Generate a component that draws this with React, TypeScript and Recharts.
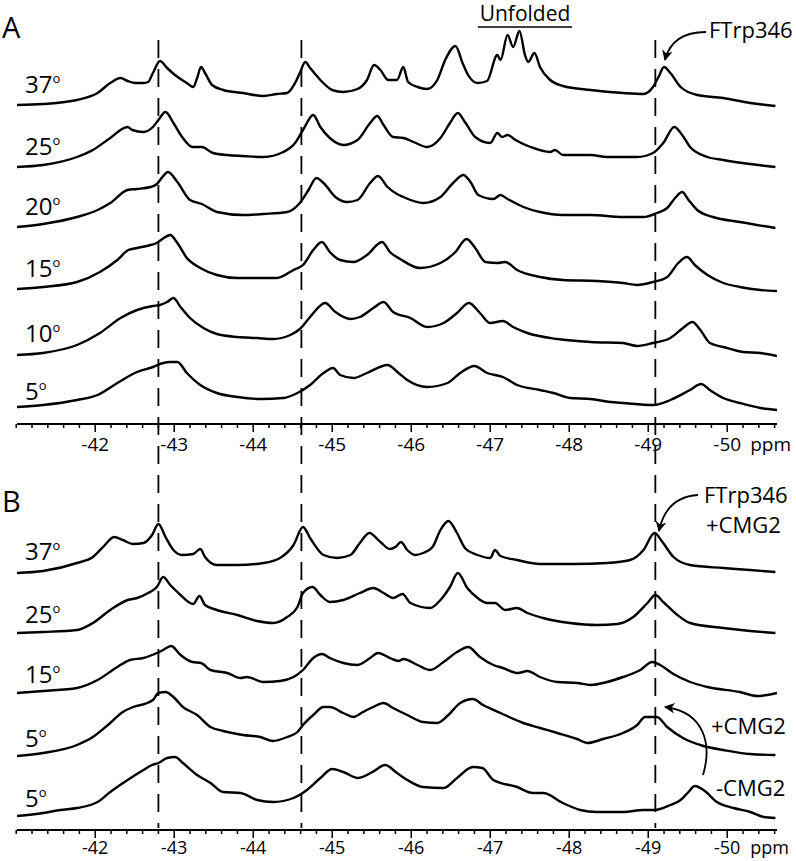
import React from 'react';
import { LineChart, Line, XAxis, YAxis, ReferenceLine } from 'recharts';

type Pt = [number, number];

// each trace: [ppm, intensity above its own left baseline]
// panel A, FTrp346 alone
const a37: Pt[] = [
  [-41.01, 0], [-41.34, 1], [-41.77, 5], [-42.03, 12], [-42.19, 22], [-42.32, 27], [-42.41, 24], [-42.51, 22],
  [-42.61, 22], [-42.67, 23], [-42.73, 32], [-42.82, 44], [-42.91, 37], [-43.01, 30], [-43.16, 22], [-43.24, 18],
  [-43.29, 27], [-43.34, 38], [-43.39, 32], [-43.48, 20], [-43.62, 15], [-43.87, 12], [-44.13, 9], [-44.3, 11],
  [-44.43, 12], [-44.53, 22], [-44.59, 32], [-44.66, 43], [-44.72, 37], [-44.85, 25], [-45.0, 15], [-45.14, 13],
  [-45.32, 16], [-45.44, 25], [-45.53, 40], [-45.61, 35], [-45.71, 25], [-45.82, 25], [-45.9, 38], [-45.96, 23],
  [-46.08, 18], [-46.2, 16], [-46.33, 25], [-46.43, 45], [-46.56, 59], [-46.65, 42], [-46.72, 30], [-46.84, 22],
  [-46.96, 24], [-47.09, 50], [-47.13, 45], [-47.22, 70], [-47.29, 58], [-47.37, 74], [-47.44, 50], [-47.48, 43],
  [-47.56, 52], [-47.63, 38], [-47.76, 25], [-47.92, 19], [-48.27, 15], [-48.68, 12], [-48.94, 11], [-49.06, 18],
  [-49.13, 28], [-49.2, 38], [-49.28, 32], [-49.41, 18], [-49.62, 10], [-49.95, 7], [-50.29, 2], [-50.61, -1],
];
const a25: Pt[] = [
  [-41.01, 0], [-41.34, 2], [-41.77, 10], [-41.97, 17], [-42.19, 29], [-42.41, 40], [-42.47, 37], [-42.61, 35],
  [-42.73, 40], [-42.8, 47], [-42.89, 55], [-42.99, 44], [-43.1, 30], [-43.23, 20], [-43.35, 20], [-43.49, 14],
  [-43.67, 12], [-43.87, 11], [-44.13, 10], [-44.38, 15], [-44.53, 24], [-44.63, 37], [-44.76, 52], [-44.85, 40],
  [-44.97, 29], [-45.14, 22], [-45.32, 27], [-45.48, 44], [-45.57, 51], [-45.65, 42], [-45.77, 30], [-45.9, 29],
  [-46.03, 25], [-46.2, 20], [-46.37, 29], [-46.49, 44], [-46.59, 54], [-46.68, 45], [-46.81, 30], [-47.0, 24],
  [-47.09, 34], [-47.15, 30], [-47.22, 32], [-47.32, 27], [-47.51, 20], [-47.76, 15], [-47.82, 17], [-47.92, 12],
  [-48.27, 12], [-48.48, 10], [-48.86, 10], [-49.06, 14], [-49.19, 24], [-49.33, 40], [-49.43, 32], [-49.53, 20],
  [-49.75, 10], [-49.95, 7], [-50.29, 3], [-50.61, 0],
];
const a20: Pt[] = [
  [-41.01, 0], [-41.34, 3], [-41.77, 10], [-42.03, 17], [-42.19, 24], [-42.41, 37], [-42.53, 38], [-42.7, 40],
  [-42.78, 43], [-42.85, 50], [-42.92, 55], [-43.04, 45], [-43.2, 27], [-43.35, 23], [-43.54, 15], [-43.87, 12],
  [-44.13, 13], [-44.43, 15], [-44.59, 24], [-44.7, 37], [-44.8, 49], [-44.89, 44], [-45.04, 30], [-45.19, 25],
  [-45.32, 27], [-45.48, 44], [-45.58, 51], [-45.7, 40], [-45.82, 33], [-45.9, 30], [-46.15, 24], [-46.37, 30],
  [-46.53, 44], [-46.66, 52], [-46.75, 45], [-46.85, 32], [-47.04, 28], [-47.13, 32], [-47.22, 28], [-47.42, 20],
  [-47.63, 15], [-47.92, 12], [-48.27, 12], [-48.68, 10], [-48.94, 10], [-49.11, 14], [-49.24, 19], [-49.34, 29],
  [-49.43, 35], [-49.51, 27], [-49.62, 17], [-49.82, 10], [-50.16, 5], [-50.61, -1],
];
const a15: Pt[] = [
  [-41.01, 0], [-41.34, 2], [-41.77, 7], [-42.06, 17], [-42.28, 29], [-42.42, 39], [-42.53, 41], [-42.7, 44],
  [-42.78, 46], [-42.85, 50], [-42.95, 54], [-43.04, 46], [-43.16, 31], [-43.33, 21], [-43.54, 14], [-43.8, 11],
  [-44.13, 11], [-44.3, 11], [-44.51, 19], [-44.63, 24], [-44.76, 39], [-44.87, 47], [-44.97, 37], [-45.1, 29],
  [-45.27, 27], [-45.44, 34], [-45.63, 47], [-45.73, 37], [-45.86, 30], [-46.11, 21], [-46.37, 26], [-46.56, 37],
  [-46.7, 50], [-46.81, 41], [-46.94, 27], [-47.09, 26], [-47.19, 27], [-47.34, 19], [-47.63, 12], [-47.92, 9],
  [-48.35, 8], [-48.68, 6], [-48.86, 4], [-49.06, 7], [-49.24, 12], [-49.38, 26], [-49.49, 32], [-49.59, 24],
  [-49.75, 14], [-49.95, 6], [-50.16, 2], [-50.42, -1], [-50.63, -2],
];
const a10: Pt[] = [
  [-41.01, 0], [-41.34, 2], [-41.77, 10], [-42.06, 22], [-42.32, 37], [-42.53, 45], [-42.73, 49], [-42.82, 50],
  [-42.91, 53], [-42.99, 57], [-43.08, 48], [-43.2, 37], [-43.37, 27], [-43.54, 21], [-43.8, 18], [-44.05, 17],
  [-44.25, 16], [-44.47, 20], [-44.59, 26], [-44.72, 38], [-44.91, 52], [-45.04, 43], [-45.23, 36], [-45.35, 38],
  [-45.52, 47], [-45.65, 53], [-45.77, 43], [-45.99, 37], [-46.2, 28], [-46.41, 32], [-46.58, 42], [-46.73, 52],
  [-46.87, 42], [-47.0, 32], [-47.16, 34], [-47.29, 28], [-47.47, 22], [-47.85, 16], [-48.27, 13], [-48.68, 12],
  [-48.86, 9], [-49.06, 12], [-49.28, 17], [-49.44, 27], [-49.56, 33], [-49.66, 25], [-49.78, 12], [-49.95, 8],
  [-50.2, 3], [-50.42, 2], [-50.63, -1],
];
const a5: Pt[] = [
  [-41.01, 0], [-41.34, 2], [-41.77, 7], [-42.03, 12], [-42.28, 24], [-42.53, 35], [-42.73, 40], [-42.86, 44],
  [-42.95, 45], [-43.04, 45], [-43.16, 34], [-43.33, 22], [-43.54, 14], [-43.8, 10], [-44.09, 8], [-44.38, 9],
  [-44.56, 14], [-44.72, 22], [-44.89, 34], [-45.01, 39], [-45.1, 32], [-45.27, 29], [-45.44, 34], [-45.7, 42],
  [-45.84, 34], [-45.95, 27], [-46.2, 20], [-46.46, 24], [-46.62, 34], [-46.8, 41], [-46.96, 34], [-47.16, 30],
  [-47.34, 22], [-47.63, 17], [-47.8, 14], [-48.01, 9], [-48.27, 8], [-48.52, 5], [-48.68, 4], [-49.06, 2],
  [-49.28, 7], [-49.53, 17], [-49.67, 23], [-49.78, 17], [-49.95, 9], [-50.16, 4], [-50.42, -1], [-50.63, -3],
];

// panel B, FTrp346 + CMG2 (last trace is the 5 degree spectrum without CMG2)
const b37: Pt[] = [
  [-41.01, 0], [-41.34, 2], [-41.77, 10], [-41.97, 16], [-42.1, 26], [-42.24, 36], [-42.35, 33], [-42.48, 29],
  [-42.61, 30], [-42.72, 38], [-42.8, 49], [-42.89, 36], [-42.99, 23], [-43.1, 18], [-43.24, 19], [-43.33, 24],
  [-43.39, 16], [-43.54, 8], [-43.8, 8], [-44.13, 10], [-44.34, 15], [-44.51, 28], [-44.63, 46], [-44.72, 35],
  [-44.89, 18], [-45.06, 15], [-45.23, 18], [-45.35, 30], [-45.47, 40], [-45.61, 31], [-45.73, 24], [-45.8, 26],
  [-45.87, 31], [-45.95, 23], [-46.05, 18], [-46.15, 20], [-46.27, 26], [-46.37, 43], [-46.47, 52], [-46.58, 40],
  [-46.68, 25], [-46.84, 18], [-47.0, 15], [-47.06, 23], [-47.13, 17], [-47.34, 13], [-47.63, 9], [-48.05, 9],
  [-48.48, 10], [-48.77, 13], [-48.94, 23], [-49.08, 40], [-49.18, 31], [-49.32, 16], [-49.53, 8], [-49.95, 5],
  [-50.29, 3], [-50.61, 1],
];
const b25: Pt[] = [
  [-41.01, 0], [-41.34, 1], [-41.77, 3], [-41.97, 10], [-42.19, 23], [-42.41, 33], [-42.53, 35], [-42.67, 40],
  [-42.78, 46], [-42.86, 56], [-42.95, 48], [-43.08, 38], [-43.18, 31], [-43.24, 29], [-43.32, 37], [-43.39, 28],
  [-43.54, 23], [-43.8, 18], [-44.05, 12], [-44.25, 10], [-44.43, 16], [-44.56, 26], [-44.63, 40], [-44.75, 46],
  [-44.85, 38], [-44.97, 31], [-45.14, 33], [-45.35, 40], [-45.52, 45], [-45.65, 40], [-45.77, 35], [-45.89, 39],
  [-45.99, 30], [-46.24, 25], [-46.37, 33], [-46.49, 46], [-46.59, 60], [-46.71, 45], [-46.84, 35], [-46.96, 30],
  [-47.06, 30], [-47.19, 23], [-47.34, 25], [-47.47, 20], [-47.67, 15], [-48.01, 10], [-48.35, 8], [-48.61, 9],
  [-48.81, 16], [-48.99, 30], [-49.09, 38], [-49.19, 31], [-49.37, 18], [-49.53, 10], [-49.95, 5], [-50.29, 2],
  [-50.61, 0],
];
const b15: Pt[] = [
  [-41.01, 0], [-41.34, 2], [-41.77, 5], [-42.03, 13], [-42.28, 26], [-42.44, 33], [-42.61, 35], [-42.78, 40],
  [-42.86, 43], [-42.96, 47], [-43.08, 38], [-43.23, 31], [-43.34, 30], [-43.46, 23], [-43.67, 20], [-43.84, 15],
  [-43.92, 16], [-44.13, 11], [-44.34, 12], [-44.51, 16], [-44.63, 23], [-44.76, 35], [-44.87, 39], [-44.97, 35],
  [-45.14, 30], [-45.32, 28], [-45.48, 35], [-45.58, 40], [-45.73, 35], [-45.84, 32], [-45.9, 34], [-46.08, 28],
  [-46.24, 23], [-46.41, 31], [-46.58, 41], [-46.72, 46], [-46.87, 36], [-47.04, 28], [-47.16, 25], [-47.35, 20],
  [-47.47, 22], [-47.63, 16], [-47.85, 11], [-48.1, 10], [-48.27, 8], [-48.48, 11], [-48.68, 16], [-48.9, 23],
  [-49.05, 31], [-49.15, 28], [-49.32, 19], [-49.53, 11], [-49.75, 6], [-50.16, 1], [-50.38, -3], [-50.63, 0],
];
const b5plus: Pt[] = [
  [-41.01, 0], [-41.34, 3], [-41.77, 11], [-41.97, 19], [-42.19, 33], [-42.35, 44], [-42.48, 49], [-42.66, 53],
  [-42.73, 56], [-42.8, 63], [-42.89, 64], [-42.99, 59], [-43.11, 49], [-43.29, 41], [-43.46, 29], [-43.62, 25],
  [-43.87, 21], [-44.09, 19], [-44.25, 15], [-44.43, 19], [-44.56, 24], [-44.63, 31], [-44.76, 41], [-44.89, 49],
  [-44.97, 49], [-45.14, 43], [-45.27, 39], [-45.39, 44], [-45.52, 49], [-45.65, 53], [-45.77, 48], [-45.95, 41],
  [-46.15, 34], [-46.33, 33], [-46.47, 41], [-46.62, 53], [-46.78, 57], [-46.91, 51], [-47.13, 43], [-47.42, 33],
  [-47.63, 28], [-47.85, 23], [-48.1, 17], [-48.23, 13], [-48.43, 17], [-48.68, 23], [-48.86, 31], [-48.96, 39],
  [-49.06, 39], [-49.11, 39], [-49.24, 29], [-49.44, 18], [-49.7, 10], [-49.95, 6], [-50.29, 2], [-50.61, 1],
];
const b5minus: Pt[] = [
  [-41.01, 0], [-41.34, 3], [-41.56, 6], [-41.77, 8], [-42.03, 14], [-42.19, 24], [-42.41, 36], [-42.61, 46],
  [-42.72, 51], [-42.8, 53], [-42.91, 58], [-43.01, 59], [-43.11, 53], [-43.29, 41], [-43.46, 33], [-43.62, 24],
  [-43.84, 23], [-44.05, 16], [-44.25, 14], [-44.51, 18], [-44.68, 26], [-44.85, 38], [-45.0, 47], [-45.14, 44],
  [-45.33, 38], [-45.51, 44], [-45.67, 51], [-45.82, 43], [-45.95, 36], [-46.15, 29], [-46.41, 28], [-46.58, 38],
  [-46.78, 49], [-46.9, 48], [-47.04, 36], [-47.34, 29], [-47.54, 23], [-47.67, 23], [-47.92, 13], [-48.14, 6],
  [-48.35, 4], [-48.68, 4], [-48.94, 6], [-49.08, 6], [-49.28, 11], [-49.41, 16], [-49.51, 24], [-49.59, 30],
  [-49.7, 26], [-49.87, 14], [-50.08, 8], [-50.29, 4], [-50.46, -1], [-50.61, -2],
];

const tempsA = ['37', '25', '20', '15', '10', '5'];
const tracesA = [a37, a25, a20, a15, a10, a5];
const offsetsA = [319, 257, 197, 135, 69, 17];

const tempsB = ['37', '25', '15', '5', '5'];
const tracesB = [b37, b25, b15, b5plus, b5minus];
const offsetsB = [257, 197, 137, 74, 14];

const majorTicks = [-42, -43, -44, -45, -46, -47, -48, -49, -50];
const minorTicks = Array.from({ length: 49 }, (_, i) => Math.round((-41 - 0.2 * i) * 10) / 10);
const dashedAt = [-42.8, -44.61, -49.09];

const FONT = "'Open Sans', 'DejaVu Sans', sans-serif";
const W = 796;

const makeTick = (labelGap: number, size: number) => (props: any) => {
  const { x, y, payload } = props;
  const v = payload.value;
  const major = majorTicks.includes(v);
  return (
    <g>
      <line x1={x} x2={x} y1={y} y2={y + (major ? 8 : 4)} stroke="#000" strokeWidth={1.5} />
      {major && (
        <text x={x} y={y + labelGap} textAnchor="middle" fontSize={size} fontFamily={FONT} fill="#000">
          {v}
        </text>
      )}
      {v === -50 && (
        <text x={x + 23} y={y + labelGap} fontSize={size} fontFamily={FONT} fill="#000">
          ppm
        </text>
      )}
    </g>
  );
};
const TickA = makeTick(27, 19);
const TickB = makeTick(24, 18);

const ppmAxis = (h: number, Tick: any) => (
  <XAxis
    dataKey="x"
    type="number"
    domain={[-50.63, -41.01]}
    reversed
    allowDataOverflow
    ticks={minorTicks}
    interval={0}
    tick={<Tick />}
    tickLine={false}
    tickSize={0}
    tickMargin={0}
    height={h}
    axisLine={{ stroke: '#000', strokeWidth: 2 }}
  />
);

const traceLines = (traces: Pt[][], offsets: number[]) =>
  traces.map((t, i) => (
    <Line
      key={i}
      data={t.map(([x, v]) => ({ x, y: v + offsets[i] }))}
      dataKey="y"
      type="monotoneX"
      dot={false}
      stroke="#000"
      strokeWidth={2.4}
      strokeLinejoin="round"
      isAnimationActive={false}
    />
  ));

const TempLabel = ({ t, y }: { t: string; y: number }) => (
  <text x={25} y={y} fontSize={24} fontFamily={FONT} fill="#000">
    {t}
    <tspan fontSize={13} dy={-10}>o</tspan>
  </text>
);

const tempBaselinesA = [93, 155, 215, 277, 342, 400];
const tempBaselinesB = [560, 623, 683, 747, 807];

export default function App() {
  return (
    <div style={{ position: 'absolute', left: 0, top: 0, width: W, height: 861, background: '#fff' }}>
      <div style={{ position: 'absolute', left: 0, top: 0 }}>
        <LineChart width={W} height={470} margin={{ top: 0, right: 19, bottom: 6, left: 17 }}>
          {ppmAxis(40, TickA)}
          <YAxis hide type="number" domain={[0, 424]} allowDataOverflow />
          {traceLines(tracesA, offsetsA)}
        </LineChart>
      </div>
      <div style={{ position: 'absolute', left: 0, top: 0 }}>
        <LineChart width={W} height={861} margin={{ top: 0, right: 19, bottom: 0, left: 17 }}>
          {ppmAxis(31, TickB)}
          <YAxis hide type="number" domain={[0, 830]} allowDataOverflow />
          {dashedAt.map((d) => (
            <ReferenceLine
              key={d}
              segment={[{ x: d, y: 790 }, { x: d, y: 2 }]}
              stroke="#000"
              strokeWidth={1.8}
              strokeDasharray="18 11"
              ifOverflow="visible"
            />
          ))}
          {traceLines(tracesB, offsetsB)}
        </LineChart>
      </div>
      <svg width={W} height={861} style={{ position: 'absolute', left: 0, top: 0, pointerEvents: 'none' }}>
        <defs>
          <marker id="head" viewBox="0 0 10 10" refX="9" refY="5" markerWidth="6" markerHeight="6" orient="auto-start-reverse">
            <path d="M0,0 L10,5 L0,10 L3,5 Z" fill="#000" />
          </marker>
        </defs>
        <text x={2} y={38} fontSize={29} fontFamily={FONT}>A</text>
        <text x={2} y={512} fontSize={29} fontFamily={FONT}>B</text>
        {tempsA.map((t, i) => <TempLabel key={'a' + i} t={t} y={tempBaselinesA[i]} />)}
        {tempsB.map((t, i) => <TempLabel key={'b' + i} t={t} y={tempBaselinesB[i]} />)}

        <text x={525} y={21} textAnchor="middle" fontSize={21} fontFamily={FONT}>Unfolded</text>
        <line x1={478} x2={572} y1={27} y2={27} stroke="#000" strokeWidth={1.5} />

        <text x={709} y={38} fontSize={22} fontFamily={FONT}>FTrp346</text>
        <path d="M706,32 Q672,32 665,60" fill="none" stroke="#000" strokeWidth={1.8} markerEnd="url(#head)" />

        <text x={704} y={503} fontSize={22} fontFamily={FONT}>FTrp346</text>
        <text x={706} y={533} fontSize={22} fontFamily={FONT}>+CMG2</text>
        <path d="M698,495 Q666,497 659,531" fill="none" stroke="#000" strokeWidth={1.8} markerEnd="url(#head)" />

        <text x={711} y={734} fontSize={22} fontFamily={FONT}>+CMG2</text>
        <text x={716} y={796} fontSize={22} fontFamily={FONT}>-CMG2</text>
        <path d="M703,775 C712,745 705,712 665,707" fill="none" stroke="#000" strokeWidth={1.8} markerEnd="url(#head)" />
      </svg>
    </div>
  );
}
